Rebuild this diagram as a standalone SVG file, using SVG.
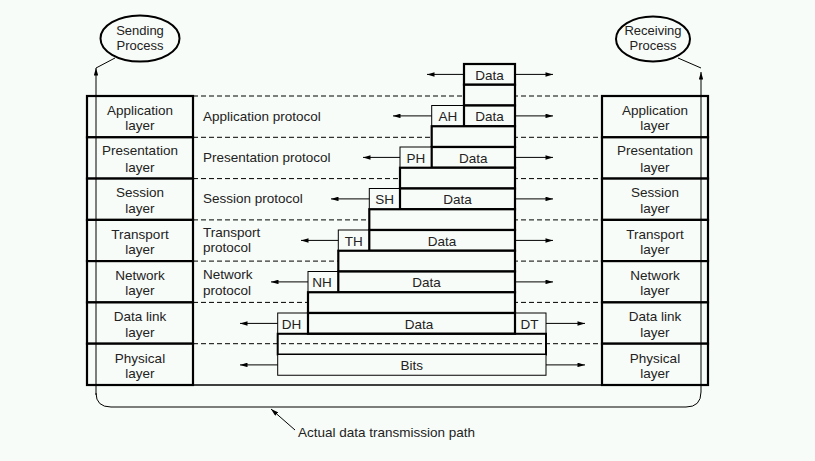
<svg xmlns="http://www.w3.org/2000/svg" width="815" height="461" viewBox="0 0 815 461">
<defs>
<style>
text{font-family:"Liberation Sans",Arial,sans-serif;font-size:13.5px;fill:#222}
.c{text-anchor:middle}
.e{font-size:13px}
.lay{fill:#f8fcf8;stroke:#000;stroke-width:2.2}
.thick{fill:#f8fcf8;stroke:#000;stroke-width:2.2}
.thin{fill:#f8fcf8;stroke:#000;stroke-width:1}
.dash{stroke:#000;stroke-width:1;stroke-dasharray:5,3;fill:none}
.arr{stroke:#000;stroke-width:1;fill:none}
.ell{fill:#f8fcf8;stroke:#000;stroke-width:2}
</style>
<marker id="ah" viewBox="0 0 10 6" refX="10" refY="3" markerWidth="8" markerHeight="4.5" markerUnits="userSpaceOnUse" orient="auto">
<path d="M0,0 L10,3 L0,6 Z" fill="#000"/>
</marker>
</defs>
<rect width="815" height="461" fill="#f8fcf8"/>

<!-- dashed layer boundaries -->
<g id="dashes">
<line class="dash" x1="193" y1="96" x2="602" y2="96"/>
<line class="dash" x1="193" y1="137.3" x2="602" y2="137.3"/>
<line class="dash" x1="193" y1="178.6" x2="602" y2="178.6"/>
<line class="dash" x1="193" y1="219.9" x2="602" y2="219.9"/>
<line class="dash" x1="193" y1="261.1" x2="602" y2="261.1"/>
<line class="dash" x1="193" y1="302.4" x2="602" y2="302.4"/>
<line class="dash" x1="193" y1="343.7" x2="602" y2="343.7"/>
<line x1="87" y1="385" x2="708" y2="385" stroke="#000" stroke-width="1.5"/>
</g>

<!-- processes -->
<g id="sending">
<ellipse class="ell" cx="140" cy="38.5" rx="39.5" ry="23"/>
<text class="c e" x="140" y="35">Sending</text>
<text class="c e" x="140" y="50">Process</text>
</g>
<g id="receiving">
<ellipse class="ell" cx="653" cy="39" rx="37" ry="22.5"/>
<text class="c e" x="653" y="35">Receiving</text>
<text class="c e" x="653" y="50">Process</text>
</g>

<!-- left stack -->
<g id="l-app"><rect class="lay" x="87" y="96" width="106" height="41.3"/><text class="c" x="140" y="114.5">Application</text><text class="c" x="140" y="130">layer</text></g>
<g id="l-pres"><rect class="lay" x="87" y="137.3" width="106" height="41.3"/><text class="c" x="140" y="155">Presentation</text><text class="c" x="140" y="171.5">layer</text></g>
<g id="l-sess"><rect class="lay" x="87" y="178.6" width="106" height="41.3"/><text class="c" x="140" y="197">Session</text><text class="c" x="140" y="213">layer</text></g>
<g id="l-trans"><rect class="lay" x="87" y="219.9" width="106" height="41.2"/><text class="c" x="140" y="238.5">Transport</text><text class="c" x="140" y="254">layer</text></g>
<g id="l-net"><rect class="lay" x="87" y="261.1" width="106" height="41.3"/><text class="c" x="140" y="279.5">Network</text><text class="c" x="140" y="295">layer</text></g>
<g id="l-dl"><rect class="lay" x="87" y="302.4" width="106" height="41.3"/><text class="c" x="140" y="321">Data link</text><text class="c" x="140" y="336.5">layer</text></g>
<g id="l-phys"><rect class="lay" x="87" y="343.7" width="106" height="41.3"/><text class="c" x="140" y="362.5">Physical</text><text class="c" x="140" y="378">layer</text></g>

<!-- right stack -->
<g id="r-app"><rect class="lay" x="602" y="96" width="106" height="41.3"/><text class="c" x="655" y="114.5">Application</text><text class="c" x="655" y="130">layer</text></g>
<g id="r-pres"><rect class="lay" x="602" y="137.3" width="106" height="41.3"/><text class="c" x="655" y="155">Presentation</text><text class="c" x="655" y="171.5">layer</text></g>
<g id="r-sess"><rect class="lay" x="602" y="178.6" width="106" height="41.3"/><text class="c" x="655" y="197">Session</text><text class="c" x="655" y="213">layer</text></g>
<g id="r-trans"><rect class="lay" x="602" y="219.9" width="106" height="41.2"/><text class="c" x="655" y="238.5">Transport</text><text class="c" x="655" y="254">layer</text></g>
<g id="r-net"><rect class="lay" x="602" y="261.1" width="106" height="41.3"/><text class="c" x="655" y="279.5">Network</text><text class="c" x="655" y="295">layer</text></g>
<g id="r-dl"><rect class="lay" x="602" y="302.4" width="106" height="41.3"/><text class="c" x="655" y="321">Data link</text><text class="c" x="655" y="336.5">layer</text></g>
<g id="r-phys"><rect class="lay" x="602" y="343.7" width="106" height="41.3"/><text class="c" x="655" y="362.5">Physical</text><text class="c" x="655" y="378">layer</text></g>

<!-- protocol labels -->
<g id="protocols">
<text x="203" y="121">Application protocol</text>
<text x="203" y="162">Presentation protocol</text>
<text x="203" y="203">Session protocol</text>
<text x="203" y="237">Transport</text>
<text x="203" y="252">protocol</text>
<text x="203" y="279">Network</text>
<text x="203" y="295">protocol</text>
</g>

<!-- encapsulation stack -->
<g id="pkt-app">
<rect class="thick" x="464" y="64" width="51" height="20.75"/><text class="c" x="489.5" y="79.5">Data</text>
</g>
<g id="pkt-app-enc"><rect class="thick" x="464" y="84.75" width="51" height="20.75"/></g>
<g id="pkt-pres">
<rect class="thin" x="431.7" y="105.5" width="32.3" height="20.75"/><text class="c" x="447.8" y="121">AH</text>
<rect class="thick" x="464" y="105.5" width="51" height="20.75"/><text class="c" x="489.5" y="121">Data</text>
</g>
<g id="pkt-pres-enc"><rect class="thick" x="431.7" y="126.25" width="83.3" height="20.75"/></g>
<g id="pkt-sess">
<rect class="thin" x="400" y="147" width="31.7" height="20.75"/><text class="c" x="415.8" y="162.5">PH</text>
<rect class="thick" x="431.7" y="147" width="83.3" height="20.75"/><text class="c" x="473.3" y="162.5">Data</text>
</g>
<g id="pkt-sess-enc"><rect class="thick" x="400" y="167.75" width="115" height="20.75"/></g>
<g id="pkt-trans">
<rect class="thin" x="369.3" y="188.5" width="30.7" height="20.75"/><text class="c" x="384.6" y="204">SH</text>
<rect class="thick" x="400" y="188.5" width="115" height="20.75"/><text class="c" x="457.5" y="204">Data</text>
</g>
<g id="pkt-trans-enc"><rect class="thick" x="369.3" y="209.25" width="145.7" height="20.75"/></g>
<g id="pkt-net">
<rect class="thin" x="338.3" y="230" width="31" height="20.75"/><text class="c" x="353.8" y="245.5">TH</text>
<rect class="thick" x="369.3" y="230" width="145.7" height="20.75"/><text class="c" x="442" y="245.5">Data</text>
</g>
<g id="pkt-net-enc"><rect class="thick" x="338.3" y="250.75" width="176.7" height="20.75"/></g>
<g id="pkt-dl">
<rect class="thin" x="308" y="271.5" width="30.3" height="20.75"/><text class="c" x="322" y="287">NH</text>
<rect class="thick" x="338.3" y="271.5" width="176.7" height="20.75"/><text class="c" x="426.5" y="287">Data</text>
</g>
<g id="pkt-dl-enc"><rect class="thick" x="308" y="292.25" width="207" height="20.75"/></g>
<g id="pkt-phys">
<rect class="thin" x="277.7" y="313" width="30.3" height="20.75"/><text class="c" x="291.5" y="328.5">DH</text>
<rect class="thin" x="515" y="313" width="31" height="20.75"/><text class="c" x="529.5" y="328.5">DT</text>
<rect class="thick" x="308" y="313" width="207" height="20.75"/><text class="c" x="419" y="328.5">Data</text>
</g>
<g id="pkt-phys-enc"><rect x="277.7" y="333.75" width="268.3" height="20.75" fill="none" stroke="#000" stroke-width="2"/></g>
<g id="pkt-bits">
<rect class="thin" x="277.7" y="354.5" width="268.3" height="20.75"/><text class="c" x="411.8" y="370">Bits</text>
</g>

<!-- connectors -->
<g id="connectors">
<line class="arr" x1="464" y1="74.4" x2="427" y2="74.4" marker-end="url(#ah)"/>
<line class="arr" x1="515" y1="74.4" x2="553" y2="74.4" marker-end="url(#ah)"/>
<line class="arr" x1="431.7" y1="115.9" x2="393" y2="115.9" marker-end="url(#ah)"/>
<line class="arr" x1="515" y1="115.9" x2="553" y2="115.9" marker-end="url(#ah)"/>
<line class="arr" x1="400" y1="157.4" x2="363" y2="157.4" marker-end="url(#ah)"/>
<line class="arr" x1="515" y1="157.4" x2="553" y2="157.4" marker-end="url(#ah)"/>
<line class="arr" x1="369.3" y1="198.9" x2="331" y2="198.9" marker-end="url(#ah)"/>
<line class="arr" x1="515" y1="198.9" x2="553" y2="198.9" marker-end="url(#ah)"/>
<line class="arr" x1="338.3" y1="240.4" x2="301" y2="240.4" marker-end="url(#ah)"/>
<line class="arr" x1="515" y1="240.4" x2="553" y2="240.4" marker-end="url(#ah)"/>
<line class="arr" x1="308" y1="281.9" x2="271" y2="281.9" marker-end="url(#ah)"/>
<line class="arr" x1="515" y1="281.9" x2="553" y2="281.9" marker-end="url(#ah)"/>
<line class="arr" x1="277.7" y1="323.4" x2="240" y2="323.4" marker-end="url(#ah)"/>
<line class="arr" x1="546" y1="323.4" x2="585" y2="323.4" marker-end="url(#ah)"/>
<line class="arr" x1="277.7" y1="364.9" x2="240" y2="364.9" marker-end="url(#ah)"/>
<line class="arr" x1="546" y1="364.9" x2="585" y2="364.9" marker-end="url(#ah)"/>
<path class="arr" d="M115,58 L96,68"/>
<path class="arr" d="M678,58 L701,68"/>
<path class="arr" d="M96,395 L96,68" marker-end="url(#ah)"/>
<path class="arr" d="M96,393 Q96,407 111,407 L686,407 Q701,407 701,392 L701,72" marker-end="url(#ah)"/>
<line class="arr" x1="295" y1="430" x2="271" y2="409" stroke-width="1.5" marker-end="url(#ah)"/>
</g>
<text x="298" y="437">Actual data transmission path</text>
</svg>
